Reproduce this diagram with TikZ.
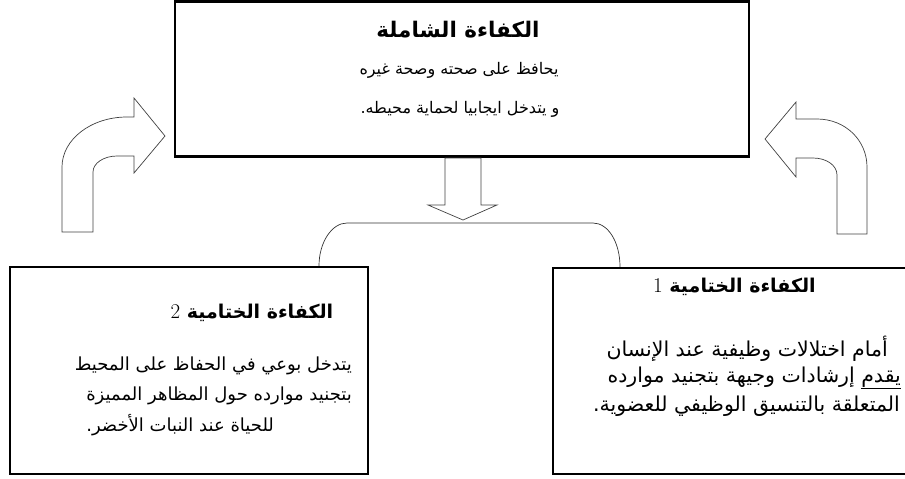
\documentclass[tikz,border=0pt]{standalone}
\usepackage{fontspec}
\newfontfamily\arabicfont[Script=Arabic]{DejaVu Sans}
\TeXXeTstate=1
\tikzset{
  bigbox/.style={draw, line width=2.2pt, inner sep=0pt},
  blockarrow/.style={draw=black!75, line width=0.7pt, line join=miter},
  thinline/.style={draw=black!80, line width=0.7pt},
  tophead/.style={font=\arabicfont\bfseries\fontsize{21.5}{24}\selectfont, inner sep=0pt},
  headtxt/.style={font=\arabicfont\bfseries\fontsize{19}{21}\selectfont, inner sep=0pt},
  topbody/.style={font=\arabicfont\fontsize{16}{18}\selectfont, inner sep=0pt},
  leftbody/.style={font=\arabicfont\fontsize{18}{20}\selectfont, inner sep=0pt},
  rightbody/.style={font=\arabicfont\fontsize{20.5}{23}\selectfont, inner sep=0pt},
}
\newcommand{\digitfont}{\normalfont\mdseries\fontsize{21}{23}\selectfont}
\begin{document}
\begin{tikzpicture}[x=1pt, y=-1pt]
\useasboundingbox (0,0) rectangle (905,479);
% boxes
\node[bigbox, minimum width=574pt, minimum height=155pt] (top) at (462,79) {};
\node[bigbox, minimum width=358pt, minimum height=207pt] (lbox) at (189,370.5) {};
\node[bigbox, minimum width=357pt, minimum height=206pt] (rbox) at (731.5,371) {};
% top box text
\node[tophead] (th) at (458,30) {\beginR الكفاءة الشاملة\endR};
\node[topbody] (t1) at (459,70) {\beginR يحافظ على صحته وصحة غيره\endR};
\node[topbody] (t2) at (460,109) {\beginR و يتدخل ايجابيا لحماية محيطه.\endR};
% left box text
\node[headtxt] (lh) at (252,313) {\beginR الكفاءة الختامية {\digitfont 2}\endR};
\node[leftbody, anchor=east] (l1) at (352,366) {\beginR يتدخل بوعي في الحفاظ على المحيط\endR};
\node[leftbody, anchor=east] (l2) at (352,396) {\beginR بتجنيد موارده حول المظاهر المميزة\endR};
\node[leftbody, anchor=west] (l3) at (l2.west |- 0,425) {\beginR للحياة عند النبات الأخضر.\endR};
% right box text
\node[headtxt] (rh) at (734.5,287) {\beginR الكفاءة الختامية {\digitfont 1}\endR};
\node[rightbody, anchor=east] (r1) at (888,349) {\beginR أمام اختلالات وظيفية عند الإنسان\endR};
\node[rightbody, anchor=east] (r2) at (901,378) {\beginR \underline{\beginR يقدم\endR} إرشادات وجيهة بتجنيد موارده\endR};
\node[rightbody, anchor=east] (r3) at (900,406) {\beginR المتعلقة بالتنسيق الوظيفي للعضوية.\endR};
% left curved arrow
\draw[blockarrow] (62,232) -- (62,167) .. controls (62,139.5) and (91,117) .. (127,117)
  -- (134,117) -- (134,98) -- (165,136) -- (134,173) -- (134,156) -- (117,156)
  .. controls (104,156) and (93,163) .. (93,172) -- (93,232) -- cycle;
% right curved arrow
\draw[blockarrow] (867,234) -- (867,167) .. controls (867,140) and (845,119) .. (817,119)
  -- (796,119) -- (796,102) -- (765,139) -- (796,177) -- (796,158) -- (813,158)
  .. controls (826,158) and (837,165) .. (837,175) -- (837,234) -- cycle;
% down arrow
\draw[blockarrow] (445,158) -- (481,158) -- (481,205) -- (497,205) -- (463,220)
  -- (428,205) -- (445,205) -- cycle;
% brace connector
\coordinate (bl) at (319,0 |- lbox.north);
\coordinate (br) at (620,0 |- rbox.north);
\draw[thinline] (bl) .. controls (319,242) and (332,223) .. (347,223) -- (593,223)
  .. controls (608,223) and (620,242) .. (br);
\end{tikzpicture}
\end{document}
